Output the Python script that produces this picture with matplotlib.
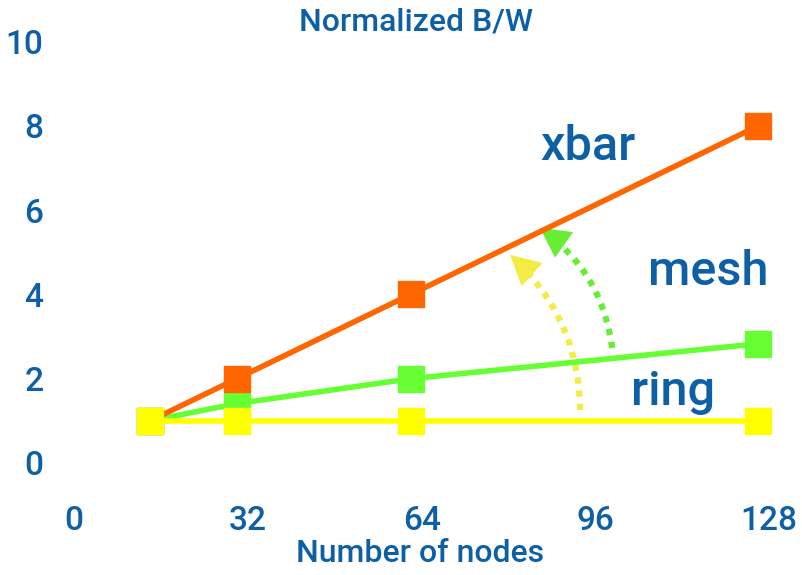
import matplotlib
matplotlib.use('Agg')
import matplotlib.pyplot as plt
import matplotlib.transforms as mtransforms
from matplotlib.patches import FancyArrowPatch

# данные
nodes = [16, 32, 64, 128]
xbar = [1, 2, 4, 8]
mesh = [1, 1.41, 2, 2.83]
ring = [1, 1, 1, 1]
x_ticks = [0, 32, 64, 96, 128]
y_ticks = [0, 2, 4, 6, 8, 10]

BLUE = '#0d5fa6'
ORANGE = '#ff6600'
GREEN = '#66ff33'
YELLOW = '#ffff00'

plt.rcParams['font.family'] = ['Roboto', 'DejaVu Sans']
plt.rcParams['font.weight'] = 'medium'

fig = plt.figure(figsize=(8.02, 5.75), dpi=100)
ax = fig.add_axes([0.0786, 0.1948, 0.894, 0.7329])

ax.plot(nodes, mesh, color=GREEN, lw=4, marker='s', ms=19, zorder=2)
ax.plot(nodes, xbar, color=ORANGE, lw=4, marker='s', ms=19, zorder=3)
ax.plot(nodes, ring, color=YELLOW, lw=4, marker='s', ms=19, zorder=4)

ax.set_xlim(0, 132)
ax.set_ylim(0, 10)
ax.set_xticks(x_ticks)
ax.set_yticks(y_ticks)
for s in ax.spines.values():
    s.set_visible(False)
ax.tick_params(length=0, labelcolor=BLUE, labelsize=24)
ax.tick_params(axis='y', pad=14)
ax.tick_params(axis='x', pad=30)
# подписи по оси x немного сдвинуты вправо
offset = mtransforms.ScaledTranslation(11 / 100, 0, fig.dpi_scale_trans)
for lbl in ax.get_xticklabels():
    lbl.set_transform(lbl.get_transform() + offset)

fig.text(416 / 802, 1 - 22 / 575, 'Normalized B/W', color=BLUE, fontsize=23,
         ha='center', va='center')
fig.text(420 / 802, 1 - 553 / 575, 'Number of nodes', color=BLUE, fontsize=23,
         ha='center', va='center')

ax.text(96.7, 7.5, 'xbar', color=BLUE, fontsize=35, ha='center', va='center')
ax.text(118.8, 4.53, 'mesh', color=BLUE, fontsize=35, ha='center', va='center')
ax.text(112.3, 1.68, 'ring', color=BLUE, fontsize=35, ha='center', va='center')

# пунктирные стрелки
arrows = [((95.2, 1.26), (82.3, 4.94), '#f2ec45'),
          ((101.1, 2.73), (87.8, 5.58), '#66ee33')]
for start, end, col in arrows:
    shaft = FancyArrowPatch(start, end, connectionstyle='arc3,rad=0.22',
                            arrowstyle='-', color=col, lw=4.5,
                            linestyle=(0, (1, 1.1)), shrinkA=0, shrinkB=16,
                            capstyle='butt', zorder=1)
    ax.add_patch(shaft)
    head = FancyArrowPatch(start, end, connectionstyle='arc3,rad=0.22',
                           arrowstyle='-|>,head_length=0.85,head_width=0.45',
                           color=col, lw=0, mutation_scale=25,
                           shrinkA=0, shrinkB=0, zorder=1)
    ax.add_patch(head)

fig.savefig('out.png', dpi=100)
